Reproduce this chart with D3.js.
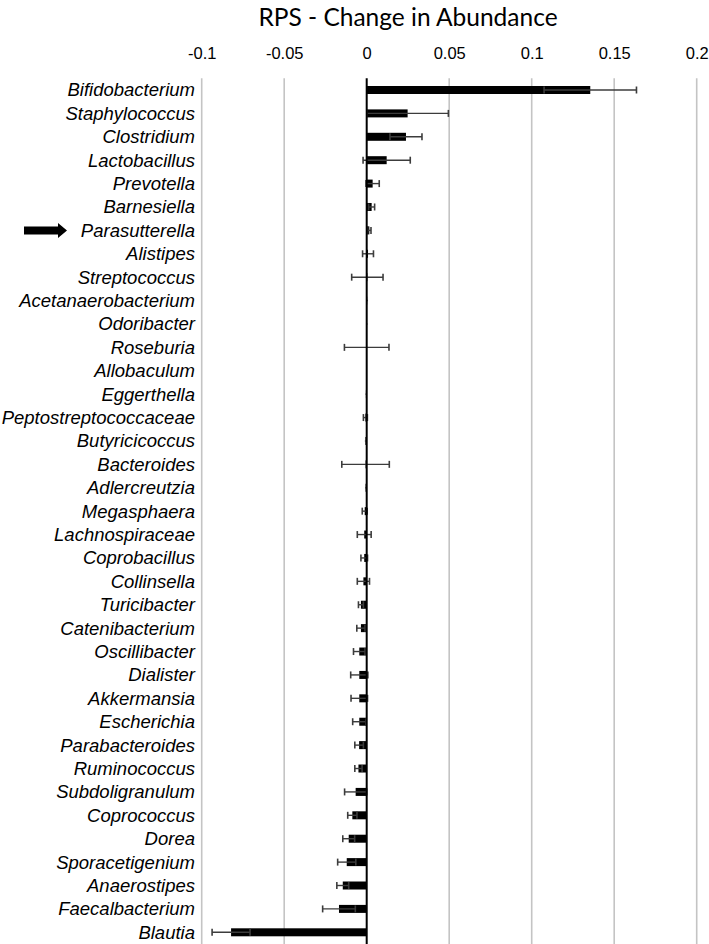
<!DOCTYPE html>
<html>
<head>
<meta charset="utf-8">
<script src="https://cdn.jsdelivr.net/npm/d3@7"></script>
<style>
  body { margin: 0; background: #fff; }
  svg { display: block; }
</style>
</head>
<body>
<div id="chart"></div>
<script>
"use strict";

/*** Data */
const genera = ["Bifidobacterium", "Staphylococcus", "Clostridium", "Lactobacillus", "Prevotella",
  "Barnesiella", "Parasutterella", "Alistipes", "Streptococcus", "Acetanaerobacterium",
  "Odoribacter", "Roseburia", "Allobaculum", "Eggerthella", "Peptostreptococcaceae",
  "Butyricicoccus", "Bacteroides", "Adlercreutzia", "Megasphaera", "Lachnospiraceae",
  "Coprobacillus", "Collinsella", "Turicibacter", "Catenibacterium", "Oscillibacter",
  "Dialister", "Akkermansia", "Escherichia", "Parabacteroides", "Ruminococcus",
  "Subdoligranulum", "Coprococcus", "Dorea", "Sporacetigenium", "Anaerostipes",
  "Faecalbacterium", "Blautia"];

const change = [0.1355, 0.0248, 0.0238, 0.0121, 0.0036,
  0.003, 0.0016, 0.0008, 0.0004, 0.0003,
  0.0002, 0.0, 0.0, -0.0005, -0.0008,
  -0.0008, -0.0007, -0.0007, -0.0012, -0.0015,
  -0.0015, -0.002, -0.0035, -0.0035, -0.0045,
  -0.0045, -0.0045, -0.0045, -0.0046, -0.005,
  -0.0067, -0.0087, -0.0109, -0.0121, -0.0145,
  -0.0168, -0.0822];

const errors = [0.028, 0.0247, 0.0097, 0.0143, 0.004,
  0.0018, 0.001, 0.0033, 0.0095, 0.0003,
  0.0002, 0.0135, 0, 0.0002, 0.0012,
  0.0003, 0.0144, 0.0002, 0.0015, 0.0042,
  0.002, 0.0037, 0.0015, 0.0025, 0.0035,
  0.0052, 0.005, 0.004, 0.0026, 0.0022,
  0.0067, 0.0028, 0.0036, 0.0055, 0.0036,
  0.0099, 0.0115];

const tickValues = [-0.1, -0.05, 0, 0.05, 0.1, 0.15, 0.2];
const markedGenus = "Parasutterella";

/** Dimensions */
const w = 709;
const h = 944;
const plotLeft = 201.7, plotRight = 696.7;
const plotTop = 78.3, plotBottom = 944;

const svg = d3.select("#chart")
  .append("svg")
  .attr("width", w)
  .attr("height", h);

const x = d3.scaleLinear().domain([-0.1, 0.2]).range([plotLeft, plotRight]);
const y = d3.scaleBand().domain(genera).range([plotTop, plotBottom]);

/** Title */
svg.append("text")
  .attr("x", 408)
  .attr("y", 26)
  .attr("text-anchor", "middle")
  .style("font-family", "Lato, 'Open Sans', sans-serif")
  .style("font-size", "24.5px")
  .style("fill", "#000")
  .text("RPS - Change in Abundance");

/** Gridlines */
svg.append("g")
  .selectAll("line")
  .data(tickValues.filter(d => d !== 0))
  .enter()
  .append("line")
  .attr("x1", d => x(d))
  .attr("x2", d => x(d))
  .attr("y1", plotTop)
  .attr("y2", plotBottom)
  .style("stroke", "#c4c4c4")
  .style("stroke-width", 1.6);

/** Top axis labels */
const axis = d3.axisTop(x)
  .tickValues(tickValues)
  .tickSize(0)
  .tickPadding(0)
  .tickFormat(d => String(+d.toFixed(2)));

const axisG = svg.append("g")
  .attr("transform", "translate(0,59)")
  .call(axis);
axisG.select(".domain").remove();
axisG.selectAll("text")
  .style("font-family", "'Liberation Sans', Arial, sans-serif")
  .style("font-size", "16.5px")
  .style("fill", "#000");

/** Bars */
const barH = 8;
svg.append("g")
  .selectAll("rect")
  .data(genera)
  .enter()
  .append("rect")
  .attr("x", (d, i) => x(Math.min(0, change[i])))
  .attr("y", d => y(d) + y.bandwidth() / 2 - barH / 2)
  .attr("width", (d, i) => Math.abs(x(change[i]) - x(0)))
  .attr("height", barH)
  .style("fill", "#000");

/** Error bars */
const errG = svg.append("g")
  .selectAll("g")
  .data(genera)
  .enter()
  .append("g")
  .attr("transform", d => "translate(0," + (y(d) + y.bandwidth() / 2) + ")");

errG.filter((d, i) => errors[i] > 0)
  .append("line")
  .attr("x1", d => x(change[genera.indexOf(d)] - errors[genera.indexOf(d)]))
  .attr("x2", d => x(change[genera.indexOf(d)] + errors[genera.indexOf(d)]))
  .style("stroke", "#3c3c3c")
  .style("stroke-width", 1.4);

[-1, 1].forEach(sign => {
  errG.filter((d, i) => errors[i] > 0.0008)
    .append("line")
    .attr("x1", d => x(change[genera.indexOf(d)] + sign * errors[genera.indexOf(d)]))
    .attr("x2", d => x(change[genera.indexOf(d)] + sign * errors[genera.indexOf(d)]))
    .attr("y1", -3.5)
    .attr("y2", 3.5)
    .style("stroke", "#3c3c3c")
    .style("stroke-width", 1.6);
});

/** Zero axis */
svg.append("line")
  .attr("x1", x(0))
  .attr("x2", x(0))
  .attr("y1", plotTop)
  .attr("y2", plotBottom)
  .style("stroke", "#000")
  .style("stroke-width", 2);

/** Category labels */
svg.append("g")
  .selectAll("text")
  .data(genera)
  .enter()
  .append("text")
  .attr("x", 195)
  .attr("y", d => y(d) + y.bandwidth() / 2)
  .attr("dy", "0.35em")
  .attr("text-anchor", "end")
  .style("font-family", "'Liberation Sans', Arial, sans-serif")
  .style("font-style", "italic")
  .style("font-size", "18.5px")
  .style("fill", "#000")
  .text(d => d);

/** Arrow pointing at the marked genus */
const ay = y(markedGenus) + y.bandwidth() / 2;
svg.append("path")
  .attr("d", "M24," + (ay - 4) + " H58 V" + (ay - 7.5) + " L67," + ay +
    " L58," + (ay + 7.5) + " V" + (ay + 4) + " H24 Z")
  .style("fill", "#000");
</script>
</body>
</html>
